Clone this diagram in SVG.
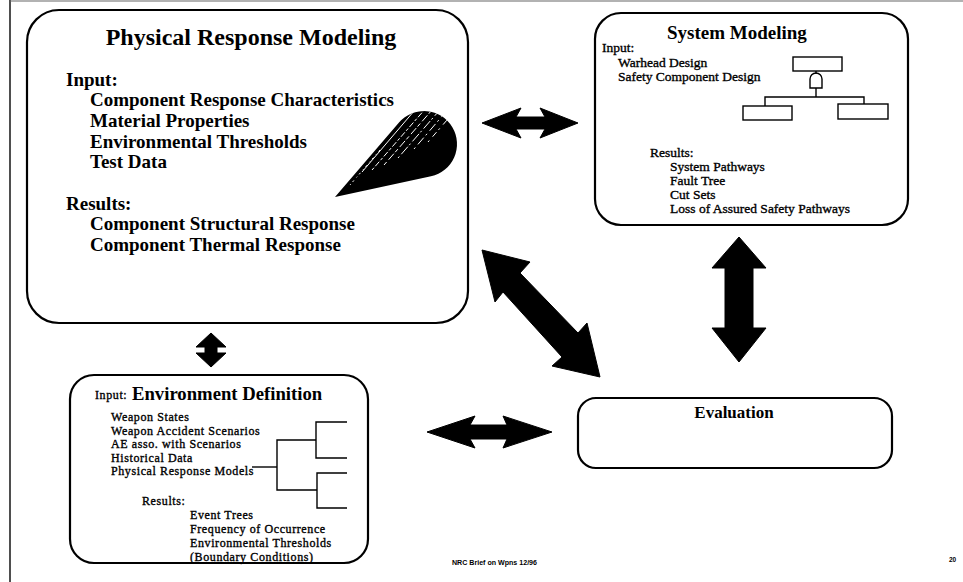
<svg xmlns="http://www.w3.org/2000/svg" width="963" height="582" viewBox="0 0 963 582">
  <defs>
    <style>
      .box { fill: #fff; stroke: #000; stroke-width: 2.2; }
      .thin { fill: none; stroke: #000; stroke-width: 1.4; }
      .arrow { fill: #000; stroke: #000; stroke-width: 1; stroke-linejoin: miter; }
      .big { font-family: "Liberation Serif", "Times New Roman", serif; font-weight: bold; fill: #000; }
      .small { font-family: "Liberation Serif", "Times New Roman", serif; font-size: 13.5px; fill: #000; stroke: #000; stroke-width: 0.35; }
      .env { font-size: 12px; letter-spacing: 0.6px; }
      .tiny { font-family: "Liberation Sans", Arial, sans-serif; font-weight: bold; font-size: 6.5px; fill: #000; }
    </style>
    <clipPath id="coneClip">
      <path d="M335,197 L399,122.5 A33,33 0 1 1 431,176.3 Z"/>
    </clipPath>
  </defs>

  <!-- page frame -->
  <line x1="10" y1="0" x2="10" y2="582" stroke="#222" stroke-width="1.6"/>
  <line x1="10" y1="1" x2="963" y2="1" stroke="#666" stroke-width="1.2"/>

  <!-- Physical Response Modeling -->
  <g id="physical-response-modeling">
    <rect class="box" x="27" y="10" width="441" height="313" rx="32" ry="32"/>
    <text class="big" x="251" y="45" font-size="24" text-anchor="middle">Physical Response Modeling</text>
    <g class="big" font-size="19">
      <text x="66" y="86">Input:</text>
      <text x="90" y="106">Component Response Characteristics</text>
      <text x="90" y="127">Material Properties</text>
      <text x="90" y="148">Environmental Thresholds</text>
      <text x="90" y="168">Test Data</text>
      <text x="66" y="210">Results:</text>
      <text x="90" y="230">Component Structural Response</text>
      <text x="90" y="251">Component Thermal Response</text>
    </g>
    <!-- shaded cone -->
    <path d="M335,197 L399,122.5 A33,33 0 1 1 431,176.3 Z" fill="#000"/>
    <g clip-path="url(#coneClip)" stroke="#fff" stroke-width="1" fill="none">
      <line x1="362" y1="172" x2="432" y2="90"/>
      <line x1="372" y1="170" x2="440" y2="92" stroke-dasharray="3 2 6 2"/>
      <line x1="384" y1="165" x2="446" y2="94" stroke-dasharray="4 3 8 2"/>
      <line x1="398" y1="158" x2="452" y2="96" stroke-dasharray="2 3 10 2"/>
      <line x1="414" y1="149" x2="456" y2="100" stroke-dasharray="2 4 9 3"/>
      <line x1="428" y1="142" x2="460" y2="105" stroke-dasharray="2 5 6 3"/>
      <line x1="350" y1="185" x2="380" y2="150" stroke-dasharray="1 3 2 4"/>
    </g>
  </g>

  <!-- System Modeling -->
  <g id="system-modeling">
    <rect class="box" x="595" y="13" width="313" height="212" rx="26" ry="26"/>
    <text class="big" x="667" y="39" font-size="19">System Modeling</text>
    <text class="small" x="602" y="52">Input:</text>
    <text class="small" x="618" y="67">Warhead Design</text>
    <text class="small" x="618" y="81">Safety Component Design</text>
    <text class="small" x="650" y="157">Results:</text>
    <text class="small" x="670" y="171">System Pathways</text>
    <text class="small" x="670" y="185">Fault Tree</text>
    <text class="small" x="670" y="199">Cut Sets</text>
    <text class="small" x="670" y="213">Loss of Assured Safety  Pathways</text>
    <!-- fault tree sketch -->
    <g class="thin">
      <rect x="793" y="57" width="49" height="14"/>
      <line x1="816" y1="71" x2="816" y2="74"/>
      <path d="M810,88 L810,79 A6,6 0 0 1 822,79 L822,88 Z"/>
      <line x1="816" y1="88" x2="816" y2="97"/>
      <polyline points="765,106 765,97 864,97 864,104"/>
      <rect x="743" y="106" width="49" height="14"/>
      <rect x="838" y="104" width="50" height="15"/>
    </g>
  </g>

  <!-- Environment Definition -->
  <g id="environment-definition">
    <rect class="box" x="70" y="375" width="298" height="188" rx="24" ry="24"/>
    <text class="big" x="132" y="400" font-size="18.7">Environment Definition</text>
    <text class="small env" x="95" y="399">Input:</text>
    <text class="small env" x="111" y="421">Weapon States</text>
    <text class="small env" x="111" y="434.5">Weapon Accident Scenarios</text>
    <text class="small env" x="111" y="448">AE asso. with Scenarios</text>
    <text class="small env" x="111" y="461.5">Historical Data</text>
    <text class="small env" x="111" y="475">Physical Response Models</text>
    <text class="small env" x="142" y="505">Results:</text>
    <text class="small env" x="190" y="519">Event Trees</text>
    <text class="small env" x="190" y="533">Frequency of Occurrence</text>
    <text class="small env" x="190" y="547">Environmental Thresholds</text>
    <text class="small env" x="190" y="561">(Boundary Conditions)</text>
    <!-- event tree sketch -->
    <g class="thin">
      <line x1="252" y1="467" x2="277" y2="467"/>
      <polyline points="316,440 277,440 277,490 317,490"/>
      <polyline points="347,422 316,422 316,458 347,458"/>
      <polyline points="347,473 317,473 317,508 347,508"/>
    </g>
  </g>

  <!-- Evaluation -->
  <g id="evaluation">
    <rect class="box" x="578" y="398" width="314" height="70" rx="18" ry="18"/>
    <text class="big" x="734" y="418" font-size="17" text-anchor="middle">Evaluation</text>
  </g>

  <!-- two-way connectors -->
  <g id="connectors">
    <polygon class="arrow" points="482,123 521,108 516,117 545,117 540,108 578,123 540,138 545,129 516,129 521,138"/>
    <polygon class="arrow" points="482,250 530,262 520,273 578,333 587,323 600,377 552,366 562,357 503,292 495,302"/>
    <polygon class="arrow" points="739,237 766,268 753,268 753,328 766,328 739,362 712,328 725,328 725,268 712,268"/>
    <polygon class="arrow" points="427,432 475,416 470,425 507,425 503,416 552,432 503,448 507,439 470,439 475,448"/>
    <polygon class="arrow" points="211,333 226,347 217,347 217,353 226,353 211,367 196,353 205,353 205,347 196,347"/>
  </g>

  <!-- footer -->
  <text class="tiny" x="452" y="565" textLength="85" lengthAdjust="spacingAndGlyphs">NRC Brief on Wpns 12/96</text>
  <text class="tiny" x="949" y="562">20</text>
</svg>
